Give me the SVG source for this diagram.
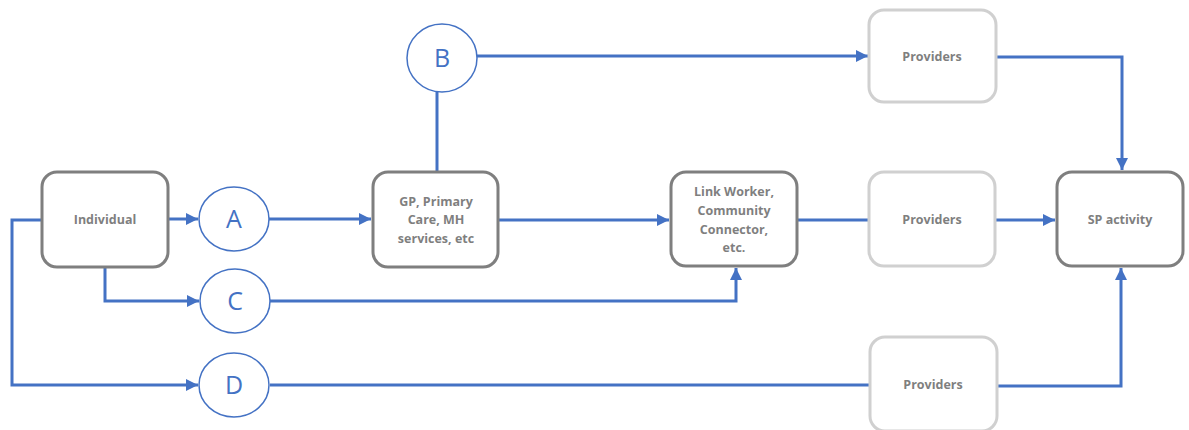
<svg xmlns="http://www.w3.org/2000/svg" width="1189" height="430" viewBox="0 0 1189 430">
  <defs>
    <marker id="arrow" viewBox="0 0 10 10" refX="10" refY="5" markerWidth="12" markerHeight="12" markerUnits="userSpaceOnUse" orient="auto">
      <path d="M0,0 L10,5 L0,10 Z" fill="#4472c4"/>
    </marker>
    <style>
      .box { fill: #ffffff; stroke: #7f7f7f; stroke-width: 3; }
      .prov { fill: #ffffff; stroke: #d0d0d0; stroke-width: 3; }
      .lbl { font-family: "Open Sans", "Liberation Sans", sans-serif; font-weight: bold; font-size: 12.5px; fill: #7f7f7f; text-anchor: middle; }
      .circ { fill: #ffffff; stroke: #4472c4; stroke-width: 1.5; }
      .letter { font-family: "Open Sans", "Liberation Sans", sans-serif; font-size: 25px; fill: #4472c4; text-anchor: middle; }
      .wire { fill: none; stroke: #4472c4; stroke-width: 3; }
    </style>
  </defs>
  <rect width="1189" height="430" fill="#ffffff"/>

  <!-- connectors -->
  <g id="connectors">
    <path class="wire" d="M168,219 H198" marker-end="url(#arrow)"/>
    <path class="wire" d="M42,220 H12 V385 H198" marker-end="url(#arrow)"/>
    <path class="wire" d="M105,267 V301 H199" marker-end="url(#arrow)"/>
    <path class="wire" d="M269,219 H371" marker-end="url(#arrow)"/>
    <path class="wire" d="M437,172 V92"/>
    <path class="wire" d="M477,56 H868" marker-end="url(#arrow)"/>
    <path class="wire" d="M498,220 H669" marker-end="url(#arrow)"/>
    <path class="wire" d="M270,301 H736 V268" marker-end="url(#arrow)"/>
    <path class="wire" d="M797,220 H869"/>
    <path class="wire" d="M996,220 H1055" marker-end="url(#arrow)"/>
    <path class="wire" d="M997,57 H1122 V170" marker-end="url(#arrow)"/>
    <path class="wire" d="M270,385 H870"/>
    <path class="wire" d="M997,386 H1121 V268" marker-end="url(#arrow)"/>
  </g>

  <g id="individual">
    <rect class="box" x="42" y="172" width="126" height="95" rx="15"/>
    <text class="lbl" x="105" y="224">Individual</text>
  </g>

  <g id="gp">
    <rect class="box" x="373" y="172" width="125" height="95" rx="15"/>
    <text class="lbl" x="436" y="206">GP, Primary</text>
    <text class="lbl" x="436" y="224">Care, MH</text>
    <text class="lbl" x="436" y="243">services, etc</text>
  </g>

  <g id="link-worker">
    <rect class="box" x="671" y="172" width="126" height="94" rx="15"/>
    <text class="lbl" x="734" y="196">Link Worker,</text>
    <text class="lbl" x="734" y="215">Community</text>
    <text class="lbl" x="734" y="234">Connector,</text>
    <text class="lbl" x="734" y="252">etc.</text>
  </g>

  <g id="providers-top">
    <rect class="prov" x="869" y="10" width="127" height="92" rx="15"/>
    <text class="lbl" x="932" y="61">Providers</text>
  </g>

  <g id="providers-mid">
    <rect class="prov" x="869" y="172" width="126" height="94" rx="15"/>
    <text class="lbl" x="932" y="224">Providers</text>
  </g>

  <g id="providers-bottom">
    <rect class="prov" x="870" y="337" width="127" height="94" rx="15"/>
    <text class="lbl" x="933" y="389">Providers</text>
  </g>

  <g id="sp-activity">
    <rect class="box" x="1057" y="172" width="126" height="94" rx="15"/>
    <text class="lbl" x="1120" y="224">SP activity</text>
  </g>

  <g id="node-a">
    <ellipse class="circ" cx="234" cy="219" rx="35" ry="32"/>
    <text class="letter" x="234" y="228">A</text>
  </g>

  <g id="node-b">
    <ellipse class="circ" cx="442" cy="58" rx="35" ry="34"/>
    <text class="letter" x="442" y="67">B</text>
  </g>

  <g id="node-c">
    <ellipse class="circ" cx="235" cy="301" rx="35" ry="32"/>
    <text class="letter" x="235" y="310">C</text>
  </g>

  <g id="node-d">
    <ellipse class="circ" cx="234" cy="385" rx="35" ry="32"/>
    <text class="letter" x="234" y="394">D</text>
  </g>
</svg>
